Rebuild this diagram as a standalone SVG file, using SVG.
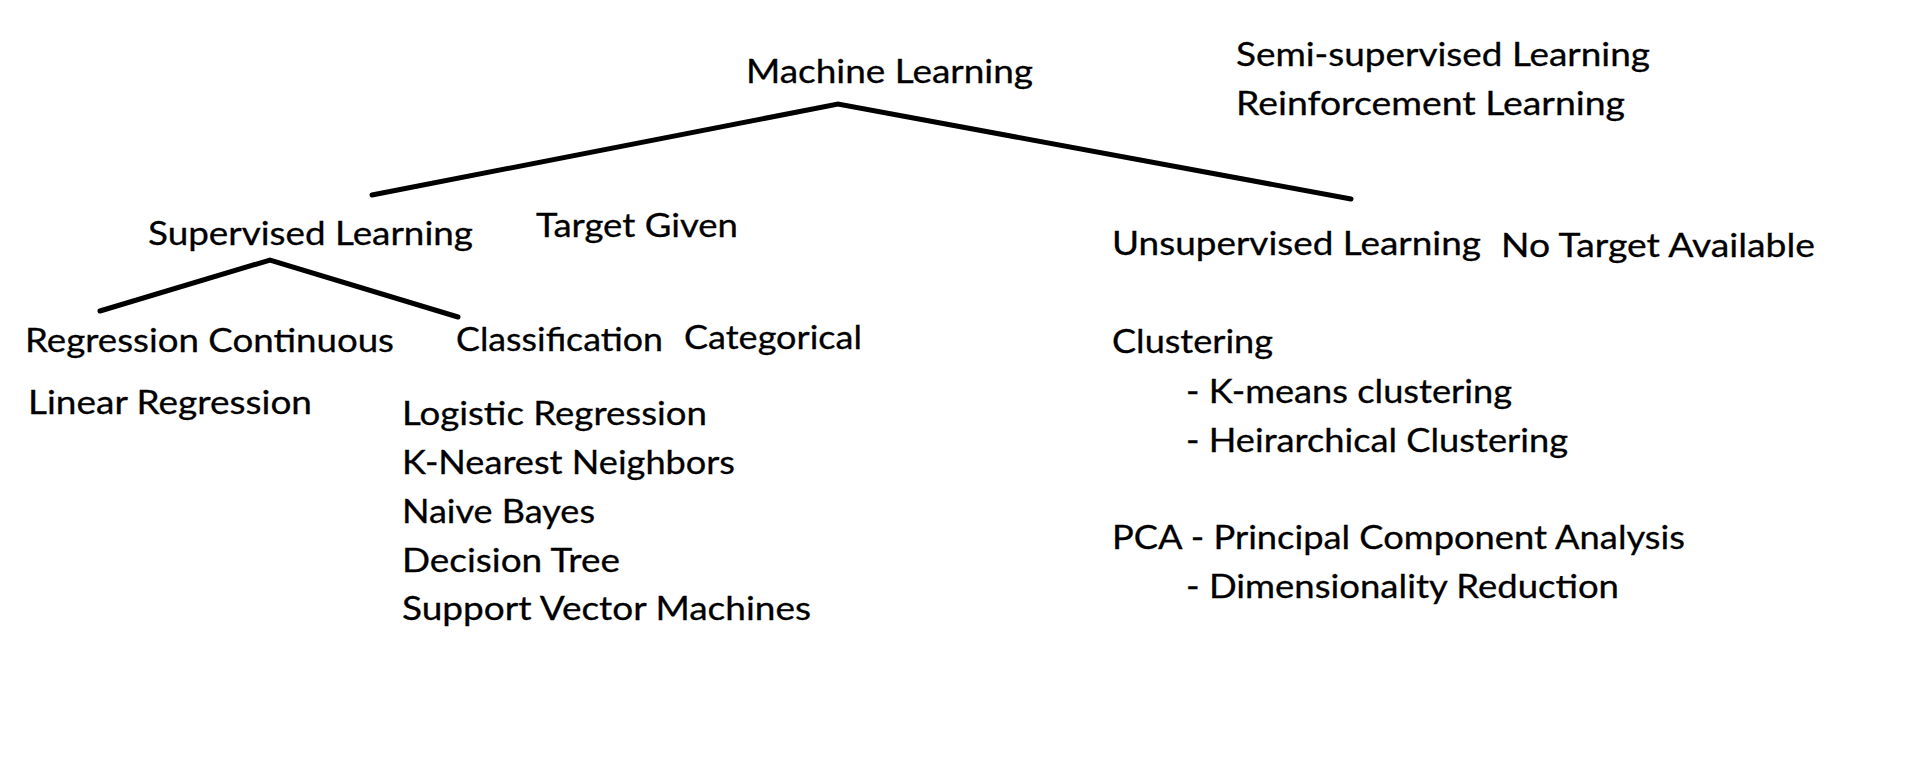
<svg xmlns="http://www.w3.org/2000/svg" width="1909" height="760" viewBox="0 0 1909 760">
<style>
text{font-family:Lato,"Open Sans","Liberation Sans",sans-serif;font-size:32px;fill:#000;stroke:#000;stroke-width:0.3}
.c{fill:none;stroke:#000;stroke-width:5;stroke-linecap:round;stroke-linejoin:miter}
</style>
<rect width="1909" height="760" fill="#fff"/>
<g id="connectors">
<polyline class="c" points="372,195 838,104 1351,199"/>
<polyline class="c" points="100,311 270,260 458,317"/>
</g>
<g id="machine-learning"><text x="746" y="83" textLength="287" lengthAdjust="spacingAndGlyphs">Machine Learning</text></g>
<g id="other-learning">
<text x="1236" y="66" textLength="414" lengthAdjust="spacingAndGlyphs">Semi-supervised Learning</text>
<text x="1236" y="115" textLength="389" lengthAdjust="spacingAndGlyphs">Reinforcement Learning</text>
</g>
<g id="supervised">
<text x="148" y="245" textLength="325" lengthAdjust="spacingAndGlyphs">Supervised Learning</text>
<text x="536" y="237" textLength="202" lengthAdjust="spacingAndGlyphs">Target Given</text>
</g>
<g id="unsupervised">
<text x="1112" y="255" textLength="369" lengthAdjust="spacingAndGlyphs">Unsupervised Learning</text>
<text x="1501" y="257" textLength="314" lengthAdjust="spacingAndGlyphs">No Target Available</text>
</g>
<g id="regression">
<text x="25" y="352" textLength="369" lengthAdjust="spacingAndGlyphs">Regression Continuous</text>
<text x="28" y="414" textLength="284" lengthAdjust="spacingAndGlyphs">Linear Regression</text>
</g>
<g id="classification">
<text x="456" y="351" textLength="207" lengthAdjust="spacingAndGlyphs">Classification</text>
<text x="684" y="349" textLength="178" lengthAdjust="spacingAndGlyphs">Categorical</text>
<text x="402" y="425" textLength="305" lengthAdjust="spacingAndGlyphs">Logistic Regression</text>
<text x="402" y="474" textLength="333" lengthAdjust="spacingAndGlyphs">K-Nearest Neighbors</text>
<text x="402" y="523" textLength="193" lengthAdjust="spacingAndGlyphs">Naive Bayes</text>
<text x="402" y="572" textLength="218" lengthAdjust="spacingAndGlyphs">Decision Tree</text>
<text x="402" y="620" textLength="409" lengthAdjust="spacingAndGlyphs">Support Vector Machines</text>
</g>
<g id="clustering">
<text x="1112" y="353" textLength="161" lengthAdjust="spacingAndGlyphs">Clustering</text>
<text x="1186" y="403" textLength="326" lengthAdjust="spacingAndGlyphs">- K-means clustering</text>
<text x="1186" y="452" textLength="382" lengthAdjust="spacingAndGlyphs">- Heirarchical Clustering</text>
</g>
<g id="pca">
<text x="1112" y="549" textLength="573" lengthAdjust="spacingAndGlyphs">PCA - Principal Component Analysis</text>
<text x="1186" y="598" textLength="433" lengthAdjust="spacingAndGlyphs">- Dimensionality Reduction</text>
</g>
</svg>
